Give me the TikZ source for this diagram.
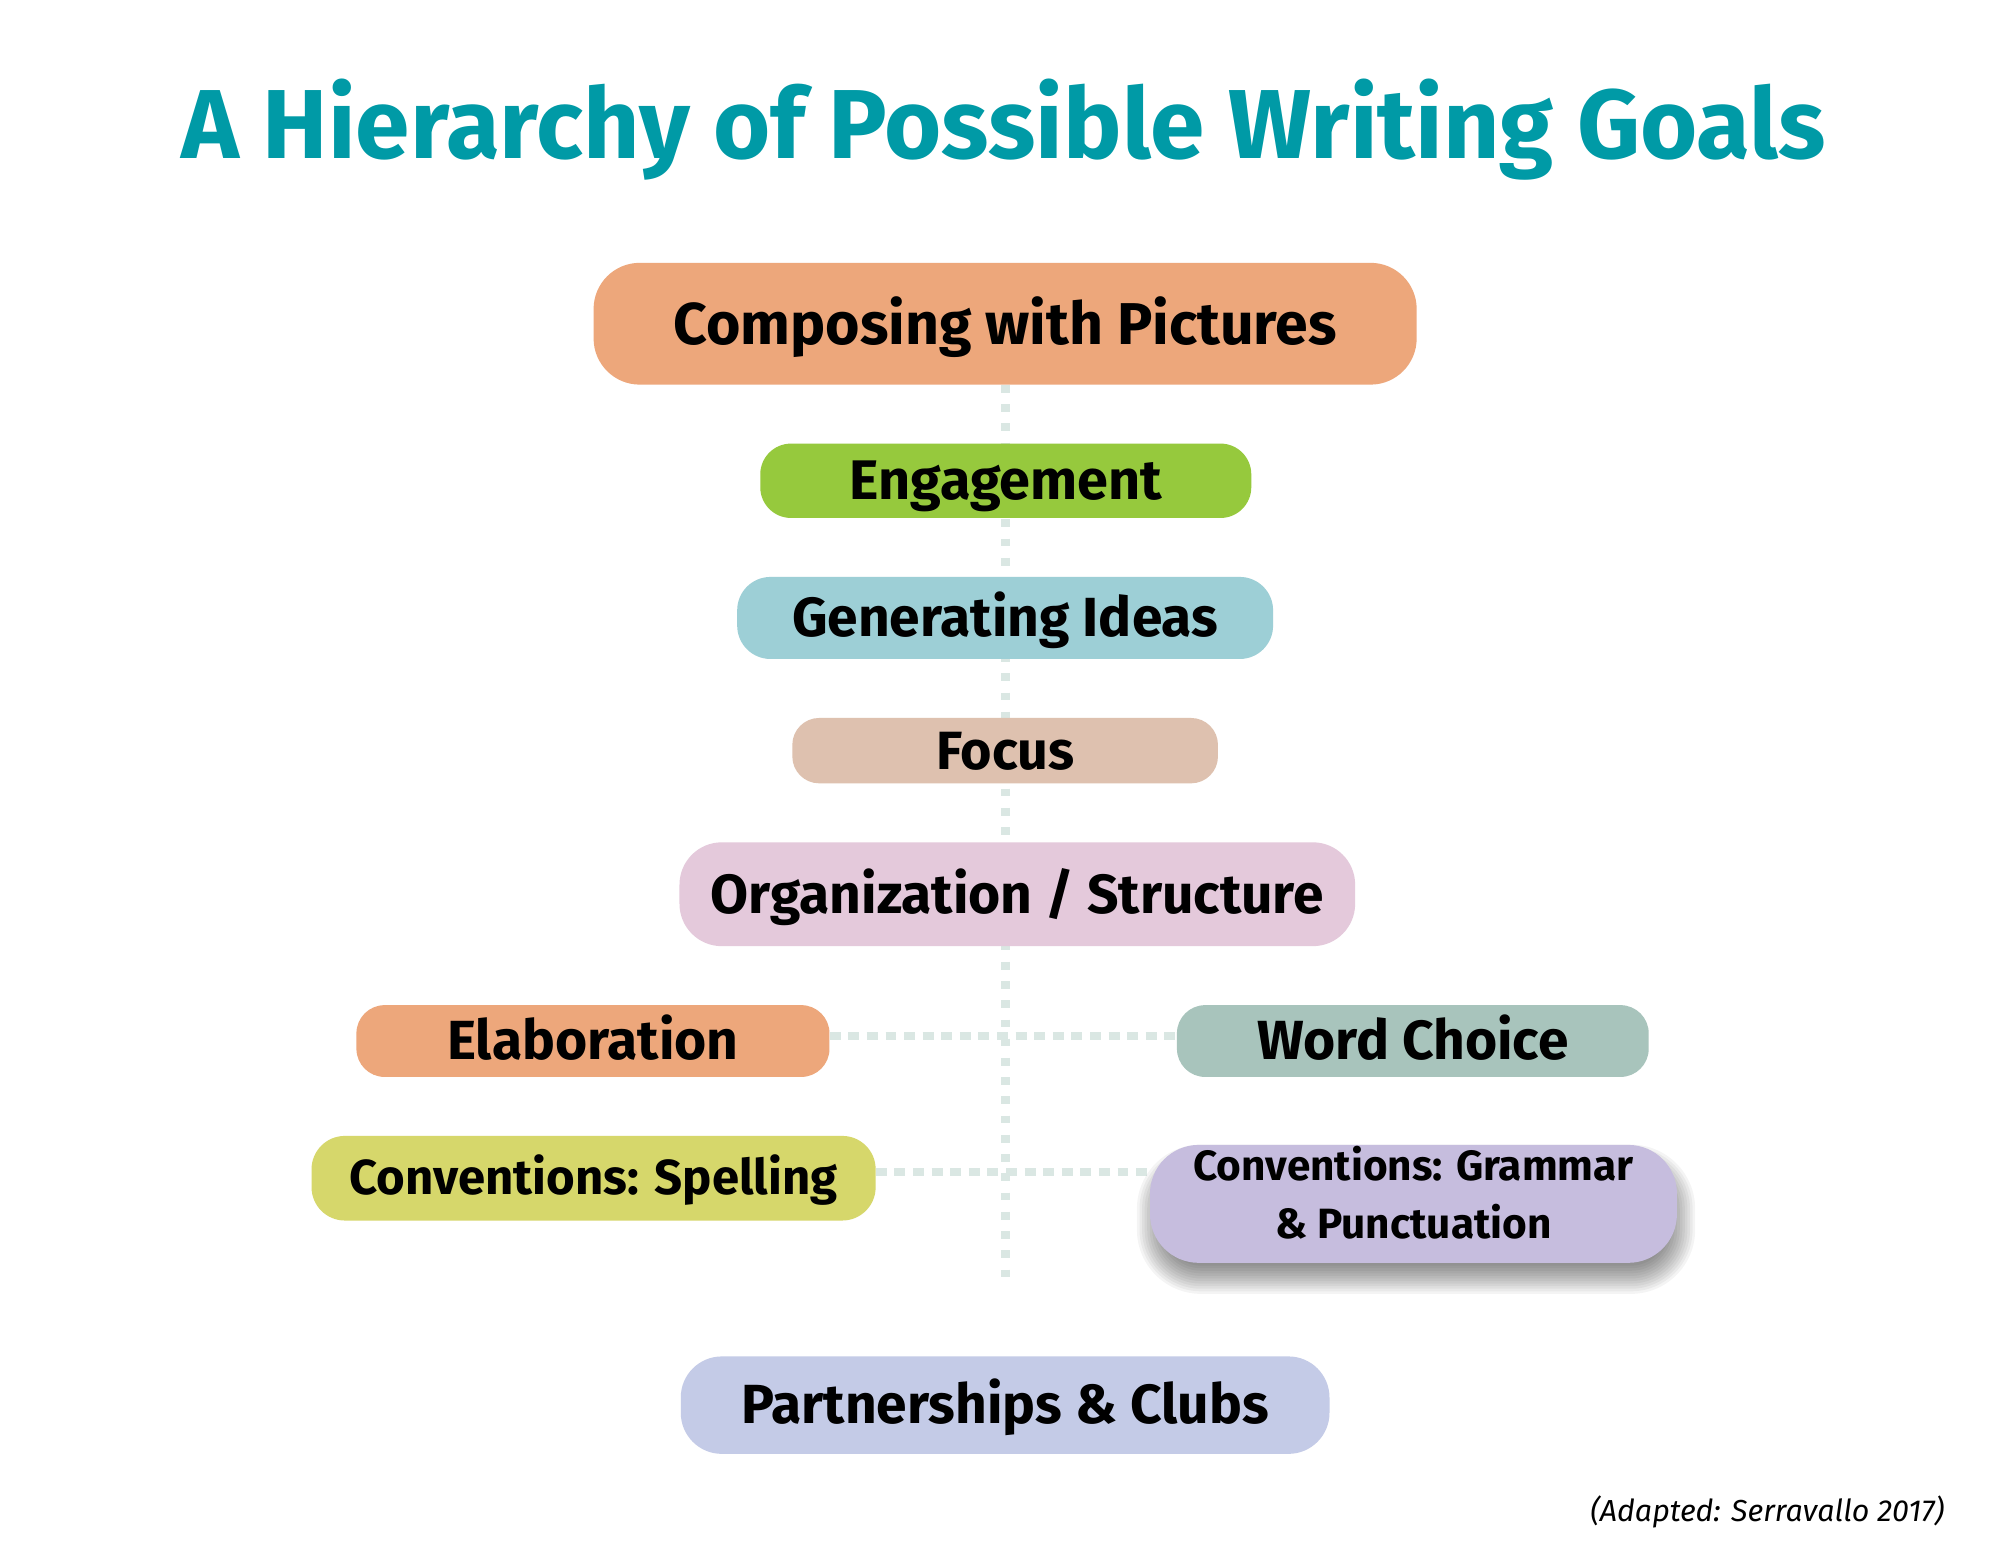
\documentclass[tikz,border=0pt]{standalone}
\usepackage{fontspec}
\setmainfont{Fira Sans}
\usetikzlibrary{backgrounds}
\definecolor{titlec}{HTML}{009AA6}
\definecolor{cOrange}{HTML}{EDA77B}
\definecolor{cGreen}{HTML}{96C93D}
\definecolor{cBlue}{HTML}{9DCFD6}
\definecolor{cTan}{HTML}{DEC1AF}
\definecolor{cPink}{HTML}{E4C9DB}
\definecolor{cSage}{HTML}{A8C4BC}
\definecolor{cYellow}{HTML}{D6D76B}
\definecolor{cLilac}{HTML}{C6BDDE}
\definecolor{cPeri}{HTML}{C4CBE7}
\definecolor{cLine}{HTML}{DAE7E3}
\tikzset{
  goal/.style={rectangle, inner sep=0pt, align=center, text=black},
  vline/.style={draw=cLine, line width=7pt, dash pattern=on 6pt off 9pt},
  hline/.style={draw=cLine, line width=6.5pt, dash pattern=on 8.5pt off 6pt},
  softshadow/.style={fill=black, opacity=0.045},
}
\newcommand{\gfont}[1]{\fontsize{#1}{#1}\selectfont\bfseries}
\begin{document}
\begin{tikzpicture}[x=1pt,y=-1pt]
\begin{scope}[on background layer]
\fill[white] (0,0) rectangle (1560,1205);
\end{scope}
\useasboundingbox (0,0) rectangle (1560,1205);
\node[font=\fontsize{76.5}{76.5}\selectfont\bfseries, text=titlec, anchor=base] (title) at (783,124) {A Hierarchy of Possible Writing Goals};

\node[goal, fill=cOrange, rounded corners=36pt, minimum width=642pt, minimum height=95pt, font=\gfont{46}, text height=32pt, text depth=0pt] (comp) at (784,252.5) {Composing with Pictures};
\node[goal, fill=cGreen, rounded corners=24pt, minimum width=383pt, minimum height=58pt, font=\gfont{43.5}, text height=29pt, text depth=0pt] (eng) at (784.5,375) {Engagement};
\node[goal, fill=cBlue, rounded corners=26pt, minimum width=418pt, minimum height=64pt, font=\gfont{43}, text height=29pt, text depth=0pt] (gen) at (784,482) {Generating Ideas};
\node[goal, fill=cTan, rounded corners=21pt, minimum width=332pt, minimum height=51pt, font=\gfont{42}, text height=29pt, text depth=0pt] (foc) at (784,585.5) {Focus};
\node[goal, fill=cPink, rounded corners=33pt, minimum width=527pt, minimum height=81pt, font=\gfont{43}, text height=30pt, text depth=0pt] (org) at (793.5,697.5) {Organization / Structure};
\node[goal, fill=cOrange, rounded corners=22pt, minimum width=369pt, minimum height=56pt, font=\gfont{43}, text height=29pt, text depth=0pt] (ela) at (462.5,812) {Elaboration};
\node[goal, fill=cSage, rounded corners=22pt, minimum width=368pt, minimum height=56pt, font=\gfont{43}, text height=29pt, text depth=0pt] (word) at (1102,812) {Word Choice};
\node[goal, fill=cYellow, rounded corners=26pt, minimum width=440pt, minimum height=66pt, font=\gfont{38.3}, text height=26pt, text depth=0pt] (spel) at (463,919) {Conventions: Spelling};
\node[goal, fill=cLilac, rounded corners=38pt, minimum width=411pt, minimum height=92pt] (gram) at (1102.5,939) {};
\node[font=\gfont{33}, anchor=base] (gramA) at (1102.5,921) {Conventions: Grammar};
\node[font=\gfont{33}, anchor=base] (gramB) at (1102.5,966) {\& Punctuation};
\node[goal, fill=cPeri, rounded corners=32pt, minimum width=506pt, minimum height=76pt, font=\gfont{43}, text height=29pt, text depth=0pt] (part) at (784,1096) {Partnerships \& Clubs};

\node[font=\fontsize{23.7}{23.7}\selectfont\itshape, anchor=base east] (src) at (1520,1187) {(Adapted: Serravallo 2017)};

\coordinate (vend) at (784,1005);
\begin{scope}[on background layer]
  \draw[vline] (comp.south) -- (vend);
  \draw[hline] ([yshift=4pt]ela.east) -- ([yshift=4pt]word.west);
  \draw[hline] ([yshift=5pt]spel.east) -- ([yshift=5pt]spel.east -| gram.west);
  \foreach \d in {12,10,...,-10}{
    \pgfmathsetmacro{\rc}{38+\d}
    \fill[softshadow, rounded corners=\rc pt] ([xshift=2pt-\d pt, yshift=-12pt-\d pt]gram.south west) rectangle ([xshift=2pt+\d pt, yshift=-12pt+\d pt]gram.north east);
  }
\end{scope}
\end{tikzpicture}
\end{document}
